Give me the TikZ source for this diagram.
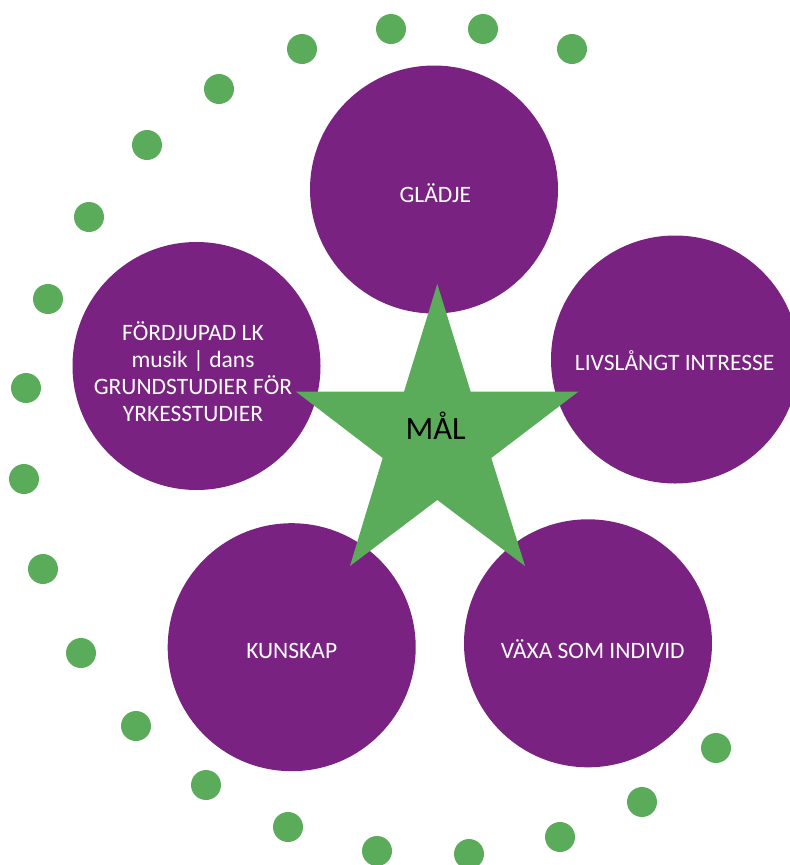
\documentclass[tikz,border=0pt]{standalone}
\usepackage{fontspec}
\setmainfont{Carlito}
\definecolor{lila}{RGB}{122,34,129}
\definecolor{gron}{RGB}{91,172,90}
\begin{document}
\begin{tikzpicture}[x=1pt,y=-1pt,
  bigcirc/.style={circle,fill=lila,draw=none,minimum size=248pt,inner sep=0pt},
  dot/.style={circle,fill=gron,draw=none,minimum size=30pt,inner sep=0pt},
  lbl/.style={text=white,anchor=base,inner sep=0pt,font=\fontsize{23.5}{27}\selectfont},
  goal/.style={text=black,anchor=base,inner sep=0pt,font=\fontsize{32.5}{38}\selectfont}]
\useasboundingbox (0,0) rectangle (790,865);
% dots
\foreach \i/\x/\y in {1/302/49,2/391/29,3/483/29,4/572/49,5/219/89,6/147/145,7/89/217,8/48/299,9/26/388,10/24/479,11/43/569,12/81/653,13/136/726,14/206/785,15/288/827,16/377/851,17/469/854,18/560/837,19/642/802,20/716/748}
  \node[dot] (d\i) at (\x,\y) {};
% circles
\node[bigcirc] (gladje) at (434,189.5) {};
\node[bigcirc] (livs) at (675,359.5) {};
\node[bigcirc] (fordj) at (196.5,366) {};
\node[bigcirc] (kunskap) at (291.7,647.2) {};
\node[bigcirc] (vaxa) at (588,643.3) {};
% star
\coordinate (s1) at (437.3,284);
\coordinate (s2) at (470.7,391.7);
\coordinate (s3) at (578.3,391.7);
\coordinate (s4) at (491.3,458);
\coordinate (s5) at (525,566);
\coordinate (s6) at (437.3,500);
\coordinate (s7) at (350,566);
\coordinate (s8) at (382.7,458);
\coordinate (s9) at (296,391.7);
\coordinate (s10) at (404,391.7);
\fill[gron] (s1) -- (s2) -- (s3) -- (s4) -- (s5) -- (s6) -- (s7) -- (s8) -- (s9) -- (s10) -- cycle;
% labels
\node[lbl] (t1) at (435.3,202.7) {GLÄDJE};
\node[lbl] (t2) at (674.7,370.7) {LIVSLÅNGT INTRESSE};
\node[lbl] (t3a) at (193,340) {FÖRDJUPAD LK};
\node[lbl] (t3b) at (193,367) {musik | dans};
\node[lbl] (t3c) at (193,394) {GRUNDSTUDIER FÖR};
\node[lbl] (t3d) at (193,421.3) {YRKESSTUDIER};
\node[lbl] (t4) at (291.7,658.7) {KUNSKAP};
\node[lbl] (t5) at (592.7,658.7) {VÄXA SOM INDIVID};
\node[goal] (mal) at (435.7,439.3) {MÅL};
\end{tikzpicture}
\end{document}
